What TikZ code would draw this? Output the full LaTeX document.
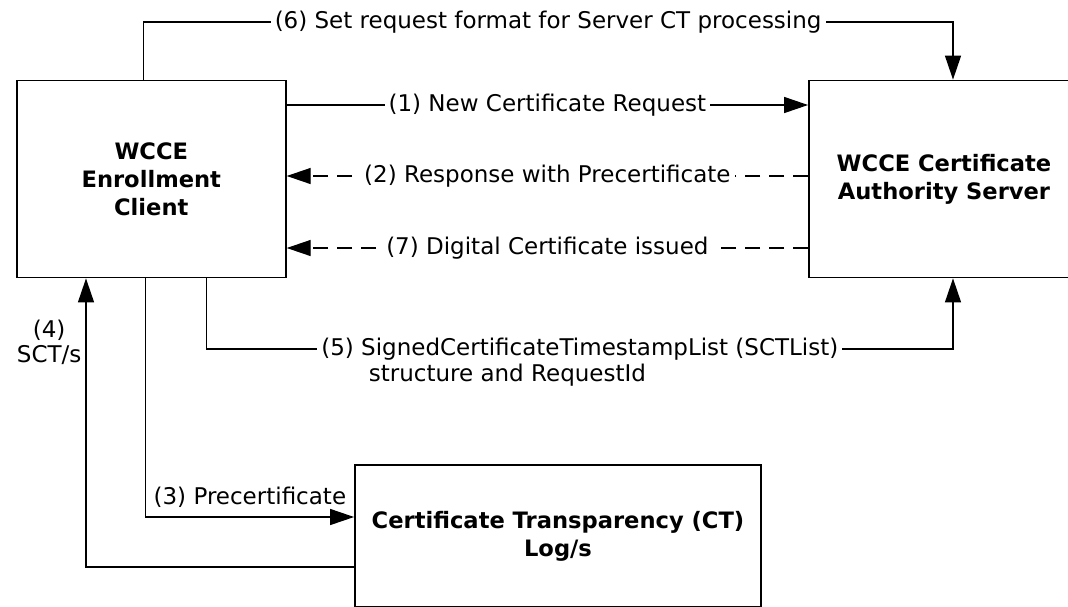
\documentclass[tikz,border=0pt]{standalone}
\usepackage{fontspec}
\setmainfont{DejaVu Sans}
\usetikzlibrary{arrows.meta}

\begin{document}
\begin{tikzpicture}[x=1pt,y=-1pt,
  box/.style={draw, line width=1.8pt, align=center, font=\fontsize{22.6}{28}\selectfont\bfseries},
  lbl/.style={fill=white, inner xsep=4pt, inner ysep=1pt, font=\fontsize{23}{25}\selectfont},
  flow/.style={line width=1.3pt, -{Triangle[length=24pt,width=16pt]}},
  back/.style={flow, dash pattern=on 15pt off 9pt}]
\useasboundingbox (0,0) rectangle (1068,606);

\node [box, minimum width=269pt, minimum height=197pt] (client) at (151.3,179) {WCCE\\Enrollment\\Client};
\node [box, minimum width=270pt, minimum height=197pt] (server) at (944,179) {WCCE Certificate\\Authority Server};
\node [box, minimum width=406pt, minimum height=142pt] (ctlog) at (558,536) {Certificate Transparency (CT)\\Log/s};

\draw [flow] ([xshift=-8pt]client.north) -- ++(0,-57.7) -| node[lbl, pos=0.25] {(6) Set request format for Server CT processing} ([xshift=9pt]server.north);
\draw [flow] ([yshift=74pt]client.east) -- node[lbl] {(1) New Certificate Request} ([yshift=74pt]server.west);
\draw [back] ([yshift=3pt]server.west) -- node[lbl] {(2) Response with Precertificate} ([yshift=3pt]client.east);
\draw [back] ([yshift=-69pt]server.west) -- node[lbl] {(7) Digital Certificate issued} ([yshift=-69pt]client.east);

\draw [flow] ([xshift=55.4pt]client.south) -- ++(0,70.5) -| node[lbl, pos=0.25] (sct) {(5) SignedCertificateTimestampList (SCTList)} ([xshift=9pt]server.south);
\node [lbl, fill=none, anchor=north west, inner sep=0pt] (sctb) at ([xshift=52pt, yshift=-2pt]sct.south west) {structure and RequestId};

\draw [flow] ([xshift=-5.6pt]client.south) |- node[lbl, fill=none, pos=0.75, above, yshift=8pt] {(3) Precertificate} ([yshift=19pt]ctlog.west);
\draw [flow] ([yshift=-31pt]ctlog.west) -| node[lbl, fill=none, pos=0.89, left, align=center] {(4)\\SCT/s} ([xshift=-65.3pt]client.south);

\end{tikzpicture}
\end{document}
